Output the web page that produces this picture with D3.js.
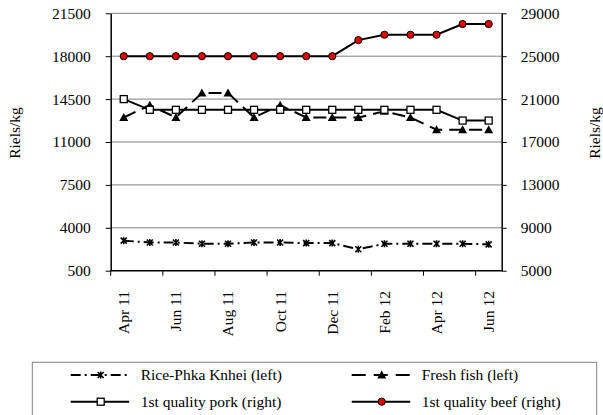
<!DOCTYPE html>
<html>
<head>
<meta charset="utf-8">
<script src="https://cdn.jsdelivr.net/npm/d3@7"></script>
<style>
  body { margin: 0; background: #fff; }
  svg { display: block; }
  svg text { font-family: "Liberation Serif", "Times New Roman", serif; font-size: 15.5px; fill: #000; }
  .axis path, .axis line { stroke: #000; }
</style>
</head>
<body>
<svg id="chart" width="603" height="415"></svg>
<script>
// months on the x axis
var months = ['Apr 11', 'May 11', 'Jun 11', 'Jul 11', 'Aug 11', 'Sep 11', 'Oct 11', 'Nov 11',
  'Dec 11', 'Jan 12', 'Feb 12', 'Mar 12', 'Apr 12', 'May 12', 'Jun 12'];

// prices, riels/kg
var rice = [2950, 2800, 2800, 2700, 2700, 2800, 2800, 2750, 2750, 2250, 2700, 2700, 2700, 2700, 2650];
var fish = [13000, 14000, 13000, 15000, 15000, 13000, 14000, 13000, 13000, 13000, 13500, 13000, 12000, 12000, 12000];
var pork = [21000, 20000, 20000, 20000, 20000, 20000, 20000, 20000, 20000, 20000, 20000, 20000, 20000, 19000, 19000];
var beef = [25000, 25000, 25000, 25000, 25000, 25000, 25000, 25000, 25000, 26500, 27000, 27000, 27000, 28000, 28000];

var leftTicks = [500, 4000, 7500, 11000, 14500, 18000, 21500];
var rightTicks = [5000, 9000, 13000, 17000, 21000, 25000, 29000];
var labelMonths = ['Apr 11', 'Jun 11', 'Aug 11', 'Oct 11', 'Dec 11', 'Feb 12', 'Apr 12', 'Jun 12'];

var series = [
  { name: 'Rice-Phka Knhei (left)', values: rice, side: 'left', dash: '10,4,2,4', marker: 'star' },
  { name: 'Fresh fish (left)', values: fish, side: 'left', dash: '13,7', marker: 'triangle' },
  { name: '1st quality pork (right)', values: pork, side: 'right', dash: null, marker: 'square' },
  { name: '1st quality beef (right)', values: beef, side: 'right', dash: null, marker: 'circle' }
];

var FONT = '"Liberation Serif", "Times New Roman", serif';
var plot = { left: 110.7, right: 501.7, top: 13.3, bottom: 270.7 };
var svg = d3.select('#chart');

var x = d3.scaleBand().domain(months).range([plot.left, plot.right]).padding(0);
var cx = function(m) { return x(m) + x.bandwidth() / 2; };
var yL = d3.scaleLinear().domain([500, 21500]).range([plot.bottom, plot.top]);
var yR = d3.scaleLinear().domain([5000, 29000]).range([plot.bottom, plot.top]);

// gridlines
svg.append('g').selectAll('line').data(leftTicks.slice(1))
  .enter().append('line')
    .attr('x1', plot.left).attr('x2', plot.right)
    .attr('y1', function(d) { return yL(d); }).attr('y2', function(d) { return yL(d); })
    .attr('stroke', '#808080').attr('stroke-width', 1);

// left axis
var gl = svg.append('g').attr('class', 'axis')
  .attr('transform', 'translate(' + plot.left + ',0)')
  .call(d3.axisLeft(yL).tickValues(leftTicks).tickFormat(d3.format('d'))
    .tickSize(5).tickPadding(15).tickSizeOuter(0));
gl.select('.domain').attr('stroke-width', 1.5);

// right axis
var gr = svg.append('g').attr('class', 'axis')
  .attr('transform', 'translate(' + plot.right + ',0)')
  .call(d3.axisRight(yR).tickValues(rightTicks).tickFormat(d3.format('d'))
    .tickSize(5).tickPadding(14).tickSizeOuter(0));
gr.select('.domain').attr('stroke-width', 1.5);
svg.selectAll('.axis').attr('font-family', FONT).attr('font-size', 15.5);

// bottom axis: ticks on every second month boundary
var boundaries = d3.range(0, months.length, 2).map(function(i) { return plot.left + i * x.step(); });
var gb = svg.append('g');
gb.append('line')
  .attr('x1', plot.left).attr('x2', plot.right)
  .attr('y1', plot.bottom).attr('y2', plot.bottom)
  .attr('stroke', '#000').attr('stroke-width', 1.5);
gb.selectAll('line.xtick').data(boundaries)
  .enter().append('line')
    .attr('class', 'xtick')
    .attr('x1', function(d) { return d; }).attr('x2', function(d) { return d; })
    .attr('y1', plot.bottom).attr('y2', plot.bottom + 5)
    .attr('stroke', '#000');
gb.selectAll('text').data(labelMonths)
  .enter().append('text')
    .attr('transform', function(d) { return 'translate(' + cx(d) + ',' + 291 + ') rotate(-90)'; })
    .attr('dy', '0.35em')
    .attr('text-anchor', 'end')
    .text(function(d) { return d; });

// axis titles
[[15, 'Riels/kg'], [595, 'Riels/kg']].forEach(function(t) {
  svg.append('text')
    .attr('transform', 'translate(' + t[0] + ',133) rotate(-90)')
    .attr('dy', '0.35em')
    .attr('text-anchor', 'middle')
    .text(t[1]);
});

function drawMarker(g, type) {
  if (type === 'star') {
    g.append('path').attr('d', 'M-3,-3L3,3M-3,3L3,-3M0,-3.5L0,3.5')
      .attr('stroke', '#000').attr('stroke-width', 1.6);
  } else if (type === 'triangle') {
    g.append('path').attr('d', 'M0,-4.5L4.5,3.5L-4.5,3.5Z').attr('fill', '#000');
  } else if (type === 'square') {
    g.append('rect').attr('x', -3.5).attr('y', -3.5).attr('width', 7).attr('height', 7)
      .attr('fill', '#fff').attr('stroke', '#000').attr('stroke-width', 1.3);
  } else {
    g.append('circle').attr('r', 3.6)
      .attr('fill', '#e00000').attr('stroke', '#000').attr('stroke-width', 1);
  }
}

// series lines and markers
series.forEach(function(s) {
  var y = s.side === 'left' ? yL : yR;
  var line = d3.line()
    .x(function(d, i) { return cx(months[i]); })
    .y(function(d) { return y(d); });
  svg.append('path')
    .datum(s.values)
    .attr('d', line)
    .attr('fill', 'none')
    .attr('stroke', '#000')
    .attr('stroke-width', 2)
    .attr('stroke-dasharray', s.dash);
  svg.append('g').selectAll('g').data(s.values)
    .enter().append('g')
      .attr('transform', function(d, i) { return 'translate(' + cx(months[i]) + ',' + y(d) + ')'; })
      .each(function() { drawMarker(d3.select(this), s.marker); });
});

// legend
var legend = svg.append('g');
legend.append('rect')
  .attr('x', 32.3).attr('y', 362.3).attr('width', 564.4).attr('height', 80)
  .attr('fill', '#fff').attr('stroke', '#808080').attr('stroke-width', 1);
var legPos = [[70.7, 375], [351.7, 375], [70.7, 401.7], [351.7, 401.7]];
series.forEach(function(s, i) {
  var p = legPos[i];
  var item = legend.append('g').attr('transform', 'translate(' + p[0] + ',' + p[1] + ')');
  item.append('line')
    .attr('x1', 0).attr('x2', 58.5)
    .attr('stroke', '#000').attr('stroke-width', 2)
    .attr('stroke-dasharray', s.dash === '13,7' ? '14,8' : s.dash);
  drawMarker(item.append('g').attr('transform', 'translate(30,0)'), s.marker);
  item.append('text')
    .attr('x', 70).attr('dy', '0.35em')
    .text(s.name);
});
</script>
</body>
</html>
